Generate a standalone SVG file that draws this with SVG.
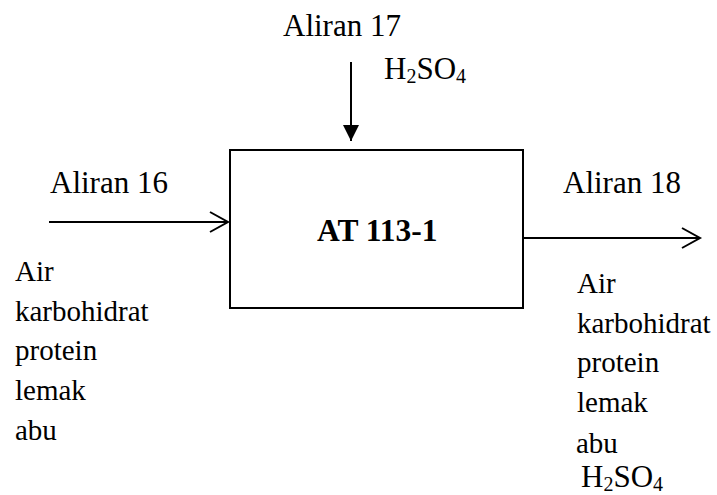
<svg xmlns="http://www.w3.org/2000/svg" width="717" height="495" viewBox="0 0 717 495">
<style>
text{font-family:"Liberation Serif","Times New Roman",serif;fill:#000}
.lbl{font-size:31px}
.lst{font-size:29px}
.sub{font-size:20px}
.ln{stroke:#000;stroke-width:2;fill:none}
</style>
<defs>
<marker id="open" markerWidth="22" markerHeight="22" refX="19" refY="11" orient="auto" markerUnits="userSpaceOnUse">
<path d="M1,1 L19,11 L1,21" fill="none" stroke="#000" stroke-width="2"/>
</marker>
<marker id="solid" markerWidth="16" markerHeight="16" refX="16" refY="8" orient="auto" markerUnits="userSpaceOnUse">
<path d="M0,0 L16,8 L0,16 Z" fill="#000"/>
</marker>
</defs>
<rect width="717" height="495" fill="#fff"/>
<g id="node-at113">
<rect x="230" y="150" width="293" height="158" fill="#fff" stroke="#000" stroke-width="2"/>
<text x="317" y="241" font-size="31.5" font-weight="bold">AT 113-1</text>
</g>
<g id="connectors">
<line class="ln" x1="351" y1="62" x2="351" y2="141" marker-end="url(#solid)"/>
<line class="ln" x1="49" y1="222" x2="228" y2="222" marker-end="url(#open)"/>
<line class="ln" x1="523" y1="238" x2="700" y2="238" marker-end="url(#open)"/>
</g>
<g id="stream17">
<text class="lbl" x="283" y="36">Aliran 17</text>
<text class="lbl" x="384" y="79">H<tspan class="sub" dy="4">2</tspan><tspan dy="-4">SO</tspan><tspan class="sub" dy="4">4</tspan></text>
</g>
<g id="stream16">
<text class="lbl" x="50" y="193">Aliran 16</text>
<text class="lst" x="15" y="281">Air</text>
<text class="lst" x="15" y="321">karbohidrat</text>
<text class="lst" x="15" y="360">protein</text>
<text class="lst" x="15" y="400">lemak</text>
<text class="lst" x="15" y="440">abu</text>
</g>
<g id="stream18">
<text class="lbl" x="563" y="193">Aliran 18</text>
<text class="lst" x="577" y="293">Air</text>
<text class="lst" x="577" y="333">karbohidrat</text>
<text class="lst" x="577" y="372">protein</text>
<text class="lst" x="577" y="412">lemak</text>
<text class="lst" x="576" y="453">abu</text>
<text class="lbl" x="581" y="487">H<tspan class="sub" dy="4">2</tspan><tspan dy="-4">SO</tspan><tspan class="sub" dy="4">4</tspan></text>
</g>
</svg>
